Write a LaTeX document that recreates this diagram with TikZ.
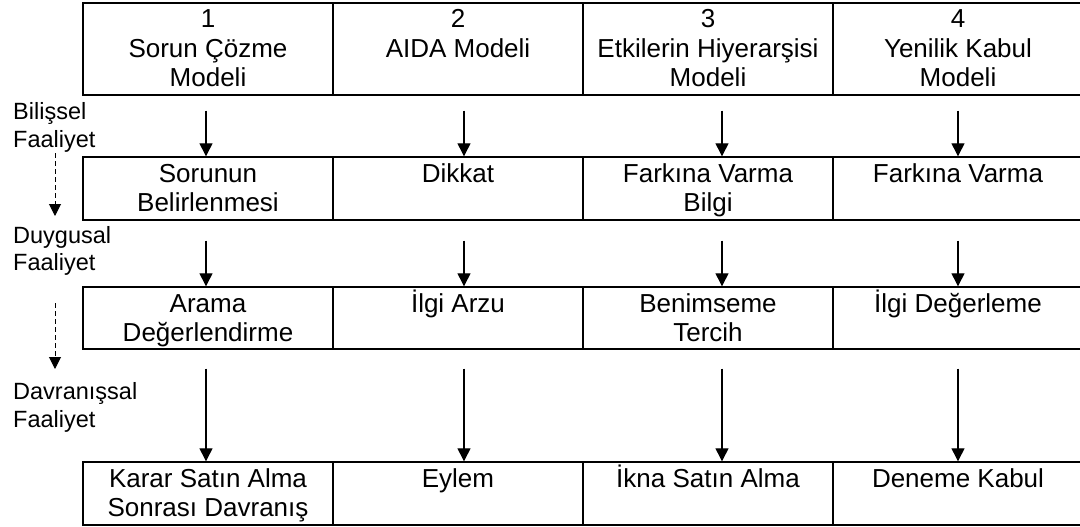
\documentclass[tikz,border=0pt]{standalone}
\usepackage{fontspec}
\setmainfont{Liberation Sans}
\usetikzlibrary{arrows.meta}
\begin{document}
\begin{tikzpicture}[x=1pt,y=-1pt,
  cell/.style={draw=black, line width=1.4pt, minimum width=250pt, inner sep=0pt},
  celltext/.style={anchor=north, inner sep=0pt, align=center,
    font=\fontsize{26}{29.5}\selectfont},
  sidetext/.style={anchor=base west, inner sep=0pt, align=left,
    font=\fontsize{23.5}{27.5}\selectfont},
  arr/.style={line width=1.3pt, -{Triangle[width=13pt,length=13pt]}},
  darr/.style={line width=1pt, dash pattern=on 5pt off 3pt,
    -{Triangle[width=12pt,length=12pt]}}]
\useasboundingbox (0,0) rectangle (1080,527);
\newcommand{\st}{\rule{0pt}{23pt}}

% column centres of the arrows
\coordinate (x1) at (206,0);
\coordinate (x2) at (464,0);
\coordinate (x3) at (722,0);
\coordinate (x4) at (958,0);

% row 1: models
\node[cell, minimum height=92pt] (a1) at (208,49) {};
\node[cell, minimum height=92pt] (a2) at (458,49) {};
\node[cell, minimum height=92pt] (a3) at (708,49) {};
\node[cell, minimum height=92pt] (a4) at (958,49) {};
% row 2
\node[cell, minimum height=63pt] (b1) at (208,188.5) {};
\node[cell, minimum height=63pt] (b2) at (458,188.5) {};
\node[cell, minimum height=63pt] (b3) at (708,188.5) {};
\node[cell, minimum height=63pt] (b4) at (958,188.5) {};
% row 3
\node[cell, minimum height=62pt] (c1) at (208,318) {};
\node[cell, minimum height=62pt] (c2) at (458,318) {};
\node[cell, minimum height=62pt] (c3) at (708,318) {};
\node[cell, minimum height=62pt] (c4) at (958,318) {};
% row 4
\node[cell, minimum height=63pt] (d1) at (208,493.5) {};
\node[cell, minimum height=63pt] (d2) at (458,493.5) {};
\node[cell, minimum height=63pt] (d3) at (708,493.5) {};
\node[cell, minimum height=63pt] (d4) at (958,493.5) {};

% cell texts
\node[celltext] (ta1) at ([yshift=-2.5pt]a1.north) {\st 1\\Sorun Çözme\\Modeli};
\node[celltext] (ta2) at ([yshift=-2.5pt]a2.north) {\st 2\\AIDA Modeli};
\node[celltext] (ta3) at ([yshift=-2.5pt]a3.north) {\st 3\\Etkilerin Hiyerarşisi\\Modeli};
\node[celltext] (ta4) at ([yshift=-2.5pt]a4.north) {\st 4\\Yenilik Kabul\\Modeli};

\node[celltext] (tb1) at ([yshift=-2.5pt]b1.north) {\st Sorunun\\Belirlenmesi};
\node[celltext] (tb2) at ([yshift=-2.5pt]b2.north) {\st Dikkat};
\node[celltext] (tb3) at ([yshift=-2.5pt]b3.north) {\st Farkına Varma\\Bilgi};
\node[celltext] (tb4) at ([yshift=-2.5pt]b4.north) {\st Farkına Varma};

\node[celltext] (tc1) at ([yshift=-2.5pt]c1.north) {\st Arama\\Değerlendirme};
\node[celltext] (tc2) at ([yshift=-2.5pt]c2.north) {\st İlgi Arzu};
\node[celltext] (tc3) at ([yshift=-2.5pt]c3.north) {\st Benimseme\\Tercih};
\node[celltext] (tc4) at ([yshift=-2.5pt]c4.north) {\st İlgi Değerleme};

\node[celltext] (td1) at ([yshift=-2.5pt]d1.north) {\st Karar Satın Alma\\Sonrası Davranış};
\node[celltext] (td2) at ([yshift=-2.5pt]d2.north) {\st Eylem};
\node[celltext] (td3) at ([yshift=-2.5pt]d3.north) {\st İkna Satın Alma};
\node[celltext] (td4) at ([yshift=-2.5pt]d4.north) {\st Deneme Kabul};

% arrows between rows
\foreach \i in {1,2,3,4}{
  \draw[arr, shorten <=15pt] (a\i.south -| x\i) -- (b\i.north -| x\i);
  \draw[arr, shorten <=20pt] (b\i.south -| x\i) -- (c\i.north -| x\i);
  \draw[arr, shorten <=19pt] (c\i.south -| x\i) -- (d\i.north -| x\i);
}

% stage labels on the left (anchored on the baseline of the last line)
\node[sidetext] (s1) at (13,147) {Bilişsel\\Faaliyet};
\node[sidetext] (s2) at (13,270.5) {Duygusal\\Faaliyet};
\node[sidetext] (s3) at (13,427) {Davranışsal\\Faaliyet};

% dashed arrows between stage labels
\coordinate (p1) at (55,153);
\coordinate (q1) at (55,216);
\coordinate (p2) at (55,303);
\coordinate (q2) at (55,369);
\draw[darr] (p1) -- (q1);
\draw[darr] (p2) -- (q2);
\end{tikzpicture}
\end{document}
